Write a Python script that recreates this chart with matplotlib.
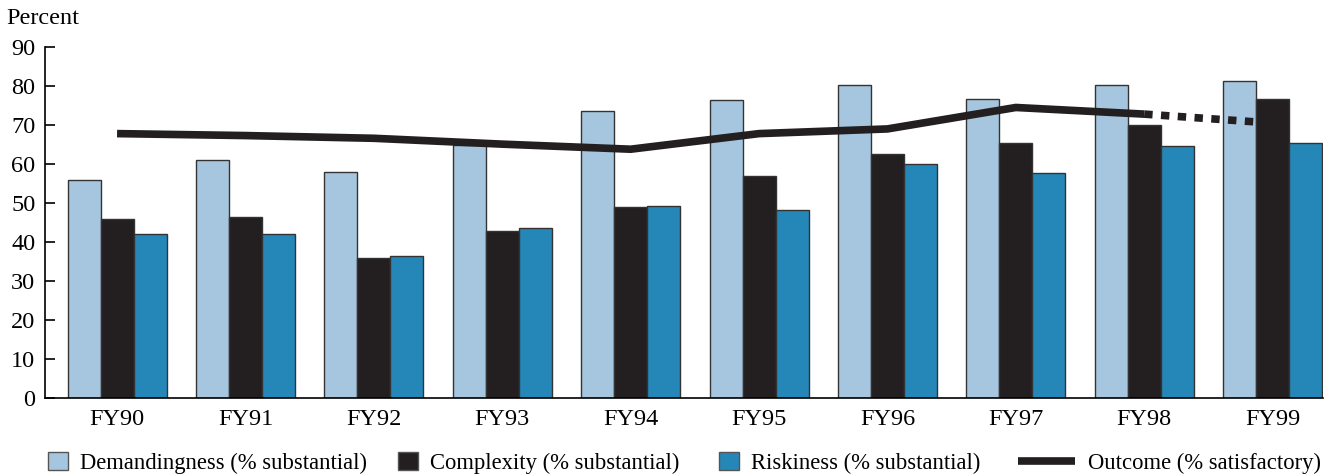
import numpy as np
import matplotlib.pyplot as plt
from matplotlib.patches import Patch
from matplotlib.lines import Line2D

plt.rcParams['font.family'] = ['Liberation Serif', 'DejaVu Serif']

years = ['FY90', 'FY91', 'FY92', 'FY93', 'FY94', 'FY95', 'FY96', 'FY97', 'FY98', 'FY99']
demandingness = [56, 61, 58, 65, 73.5, 76.3, 80.2, 76.6, 80.2, 81.4]
complexity = [45.8, 46.3, 35.8, 42.8, 48.9, 57, 62.6, 65.5, 70, 76.8]
riskiness = [42, 42, 36.5, 43.6, 49.3, 48.1, 60.1, 57.8, 64.6, 65.4]
outcome = [67.8, 67.3, 66.6, 65.1, 63.8, 67.8, 69, 74.5, 72.8, 70.5]

light = '#a6c6df'
dark = '#231f20'
blue = '#2487b8'
fs = 17.5
lfs = 16.3

fig = plt.figure(figsize=(13.28, 4.75), dpi=100)
ax = fig.add_axes([0.034, 0.162, 0.962, 0.739])

x = np.arange(len(years))
w = 0.257
kw = dict(edgecolor='#333333', linewidth=1.0)
ax.bar(x - w, demandingness, w, color=light, **kw)
ax.bar(x, complexity, w, color=dark, **kw)
ax.bar(x + w, riskiness, w, color=blue, **kw)

# solid through FY98, dotted for FY99
ax.plot(x[:9], outcome[:9], color=dark, lw=5.5, solid_capstyle='butt', zorder=5)
ax.plot(x[8:], outcome[8:], color=dark, lw=5.5, linestyle=(0, (1.1, 1.1)),
        dash_capstyle='butt', zorder=5)

ax.set_xlim(-0.56, 9.39)
ax.set_ylim(0, 90)
ax.set_yticks(range(0, 91, 10))
ax.set_xticks(x)
ax.set_xticklabels(years)
ax.tick_params(axis='y', direction='in', length=7, width=1.2, labelsize=fs, pad=7)
ax.tick_params(axis='x', length=0, labelsize=fs, pad=8)
ax.spines['top'].set_visible(False)
ax.spines['right'].set_visible(False)
ax.spines['left'].set_linewidth(1.2)
ax.spines['bottom'].set_linewidth(1.2)

fig.text(0.005, 0.96, 'Percent', fontsize=fs, va='center')

entries = [
    (Patch(facecolor=light, edgecolor='#555555', label='Demandingness (% substantial)'), 0.0361, 0.88),
    (Patch(facecolor=dark, edgecolor='#555555', label='Complexity (% substantial)'), 0.2997, 0.88),
    (Patch(facecolor=blue, edgecolor='#555555', label='Riskiness (% substantial)'), 0.5414, 0.88),
    (Line2D([], [], color=dark, lw=5.5, solid_capstyle='butt', label='Outcome (% satisfactory)'), 0.7666, 2.52),
]
for h, xpos, hl in entries:
    fig.legend(handles=[h], loc='center left', bbox_to_anchor=(xpos, 0.025),
               frameon=False, fontsize=lfs, handlelength=hl, handleheight=0.8,
               handletextpad=0.55, borderpad=0, borderaxespad=0)

fig.savefig('out.png', dpi=100)
